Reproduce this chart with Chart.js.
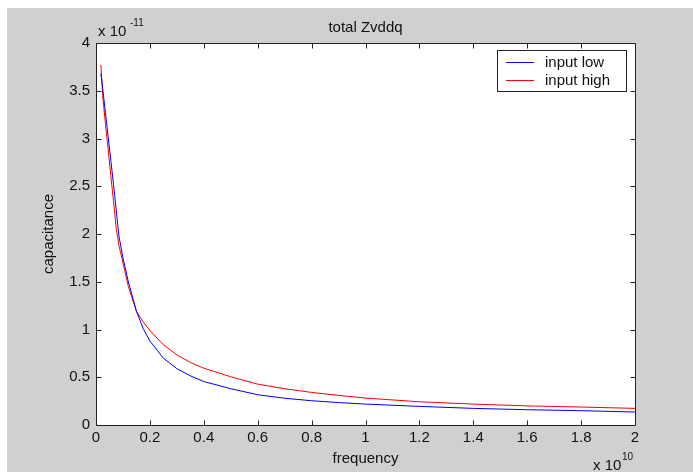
<!DOCTYPE html>
<html>
<head>
<meta charset="utf-8">
<script src="https://cdn.jsdelivr.net/npm/chart.js@4/dist/chart.umd.min.js"></script>
<style>
  html, body { margin: 0; padding: 0; background: #fff; }
  canvas { display: block; }
</style>
</head>
<body>
<canvas id="zChart" width="693" height="472"></canvas>
<script>
// frequency in units of 1e10, capacitance in units of 1e-11
const freq = [0.018, 0.025, 0.035, 0.045, 0.055, 0.065, 0.075, 0.085, 0.1, 0.12, 0.15, 0.175, 0.2,
  0.25, 0.3, 0.35, 0.4, 0.5, 0.6, 0.7, 0.8, 0.9, 1.0, 1.2, 1.4, 1.6, 1.8, 2.0];
const inputLow = [3.68, 3.52, 3.27, 3.02, 2.77, 2.52, 2.25, 1.98, 1.75, 1.50, 1.19, 1.01, 0.88,
  0.70, 0.59, 0.515, 0.455, 0.38, 0.317, 0.28, 0.254, 0.235, 0.219, 0.195, 0.174, 0.16, 0.15, 0.136];
const inputHigh = [3.77, 3.45, 3.15, 2.89, 2.61, 2.34, 2.06, 1.88, 1.70, 1.45, 1.19, 1.08, 0.99,
  0.84, 0.735, 0.655, 0.595, 0.505, 0.428, 0.38, 0.341, 0.31, 0.282, 0.243, 0.219, 0.20, 0.188, 0.174];
const seriesNames = ['input low', 'input high'];
const xTicks = [0, 0.2, 0.4, 0.6, 0.8, 1, 1.2, 1.4, 1.6, 1.8, 2];
const yTicks = [0, 0.5, 1, 1.5, 2, 2.5, 3, 3.5, 4];

const FONT = '"Liberation Sans", Arial, sans-serif';
const TXT = '#111';
const toPts = (ys) => ys.map((y, i) => ({ x: freq[i], y }));

// gray figure, white axes, box with inward ticks, labels, legend (MATLAB look)
const matlabFrame = {
  id: 'matlabFrame',
  beforeDraw(chart) {
    const { ctx, chartArea: a } = chart;
    ctx.save();
    ctx.fillStyle = '#fff';
    ctx.fillRect(0, 0, chart.width, chart.height);
    ctx.fillStyle = '#d0d0d0';
    ctx.fillRect(7, 8, chart.width - 7, chart.height - 8);
    ctx.fillStyle = '#fff';
    ctx.fillRect(a.left, a.top, a.right - a.left, a.bottom - a.top);
    ctx.restore();
  },
  afterDatasetsDraw(chart) {
    const { ctx, chartArea: a, scales } = chart;
    const L = a.left + 0.5, R = a.right + 0.5, T = a.top + 0.5, B = a.bottom + 0.5;
    const tl = 5;
    ctx.save();
    ctx.strokeStyle = '#222';
    ctx.lineWidth = 1;
    ctx.beginPath();
    ctx.rect(L, T, R - L, B - T);
    xTicks.forEach(v => {
      const px = Math.round(scales.x.getPixelForValue(v)) + 0.5;
      ctx.moveTo(px, B); ctx.lineTo(px, B - tl);
      ctx.moveTo(px, T); ctx.lineTo(px, T + tl);
    });
    yTicks.forEach(v => {
      const py = Math.round(scales.y.getPixelForValue(v)) + 0.5;
      ctx.moveTo(L, py); ctx.lineTo(L + tl, py);
      ctx.moveTo(R, py); ctx.lineTo(R - tl, py);
    });
    ctx.stroke();

    // texts
    const cx = (a.left + a.right) / 2;
    ctx.fillStyle = TXT;
    ctx.font = '15px ' + FONT;
    ctx.textAlign = 'center';
    ctx.textBaseline = 'alphabetic';
    ctx.fillText('total Zvddq', cx, 32);
    ctx.fillText('frequency', cx, 463);

    ctx.save();
    ctx.translate(53, (a.top + a.bottom) / 2);
    ctx.rotate(-Math.PI / 2);
    ctx.fillText('capacitance', 0, 0);
    ctx.restore();

    ctx.textAlign = 'left';
    ctx.fillText('x 10', 98, 36);
    ctx.fillText('x 10', 593, 470);
    ctx.font = '10px ' + FONT;
    ctx.fillText('-11', 130, 26);
    ctx.fillText('10', 622, 460);

    // legend
    const lx = 497.5, ly = 50.5, lw = 129, lh = 41;
    ctx.fillStyle = '#fff';
    ctx.fillRect(lx, ly, lw, lh);
    ctx.strokeStyle = '#222';
    ctx.strokeRect(lx, ly, lw, lh);
    ctx.font = '15px ' + FONT;
    chart.data.datasets.forEach((ds, i) => {
      const yy = 62 + i * 18;
      ctx.strokeStyle = ds.borderColor;
      ctx.beginPath();
      ctx.moveTo(506, yy + 0.5);
      ctx.lineTo(534, yy + 0.5);
      ctx.stroke();
      ctx.fillStyle = TXT;
      ctx.fillText(ds.label, 545, yy + 5);
    });
    ctx.restore();
  }
};

new Chart(document.getElementById('zChart'), {
  type: 'line',
  data: {
    datasets: [
      { label: seriesNames[0], data: toPts(inputLow), borderColor: '#0000ff' },
      { label: seriesNames[1], data: toPts(inputHigh), borderColor: '#ff0000' }
    ]
  },
  options: {
    responsive: false,
    devicePixelRatio: 1,
    animation: false,
    events: [],
    layout: { padding: { left: 36, right: 58, top: 43, bottom: 0 } },
    elements: {
      line: { borderWidth: 1, tension: 0, fill: false },
      point: { radius: 0 }
    },
    plugins: { legend: { display: false }, title: { display: false }, tooltip: { enabled: false } },
    scales: {
      x: {
        type: 'linear', min: 0, max: 2,
        afterFit: s => { s.height = 47; },
        afterBuildTicks: s => { s.ticks = xTicks.map(v => ({ value: v })); },
        grid: { display: false, drawTicks: false },
        border: { display: false },
        ticks: {
          padding: 4, color: TXT, font: { family: FONT, size: 15 },
          maxRotation: 0, autoSkip: false,
          callback: v => String(parseFloat(v.toFixed(1)))
        }
      },
      y: {
        type: 'linear', min: 0, max: 4,
        afterFit: s => { s.width = 60; },
        afterBuildTicks: s => { s.ticks = yTicks.map(v => ({ value: v })); },
        grid: { display: false, drawTicks: false },
        border: { display: false },
        ticks: {
          padding: 6, color: TXT, font: { family: FONT, size: 15 },
          autoSkip: false,
          callback: v => String(parseFloat(v.toFixed(1)))
        }
      }
    }
  },
  plugins: [matlabFrame]
});
</script>
</body>
</html>
